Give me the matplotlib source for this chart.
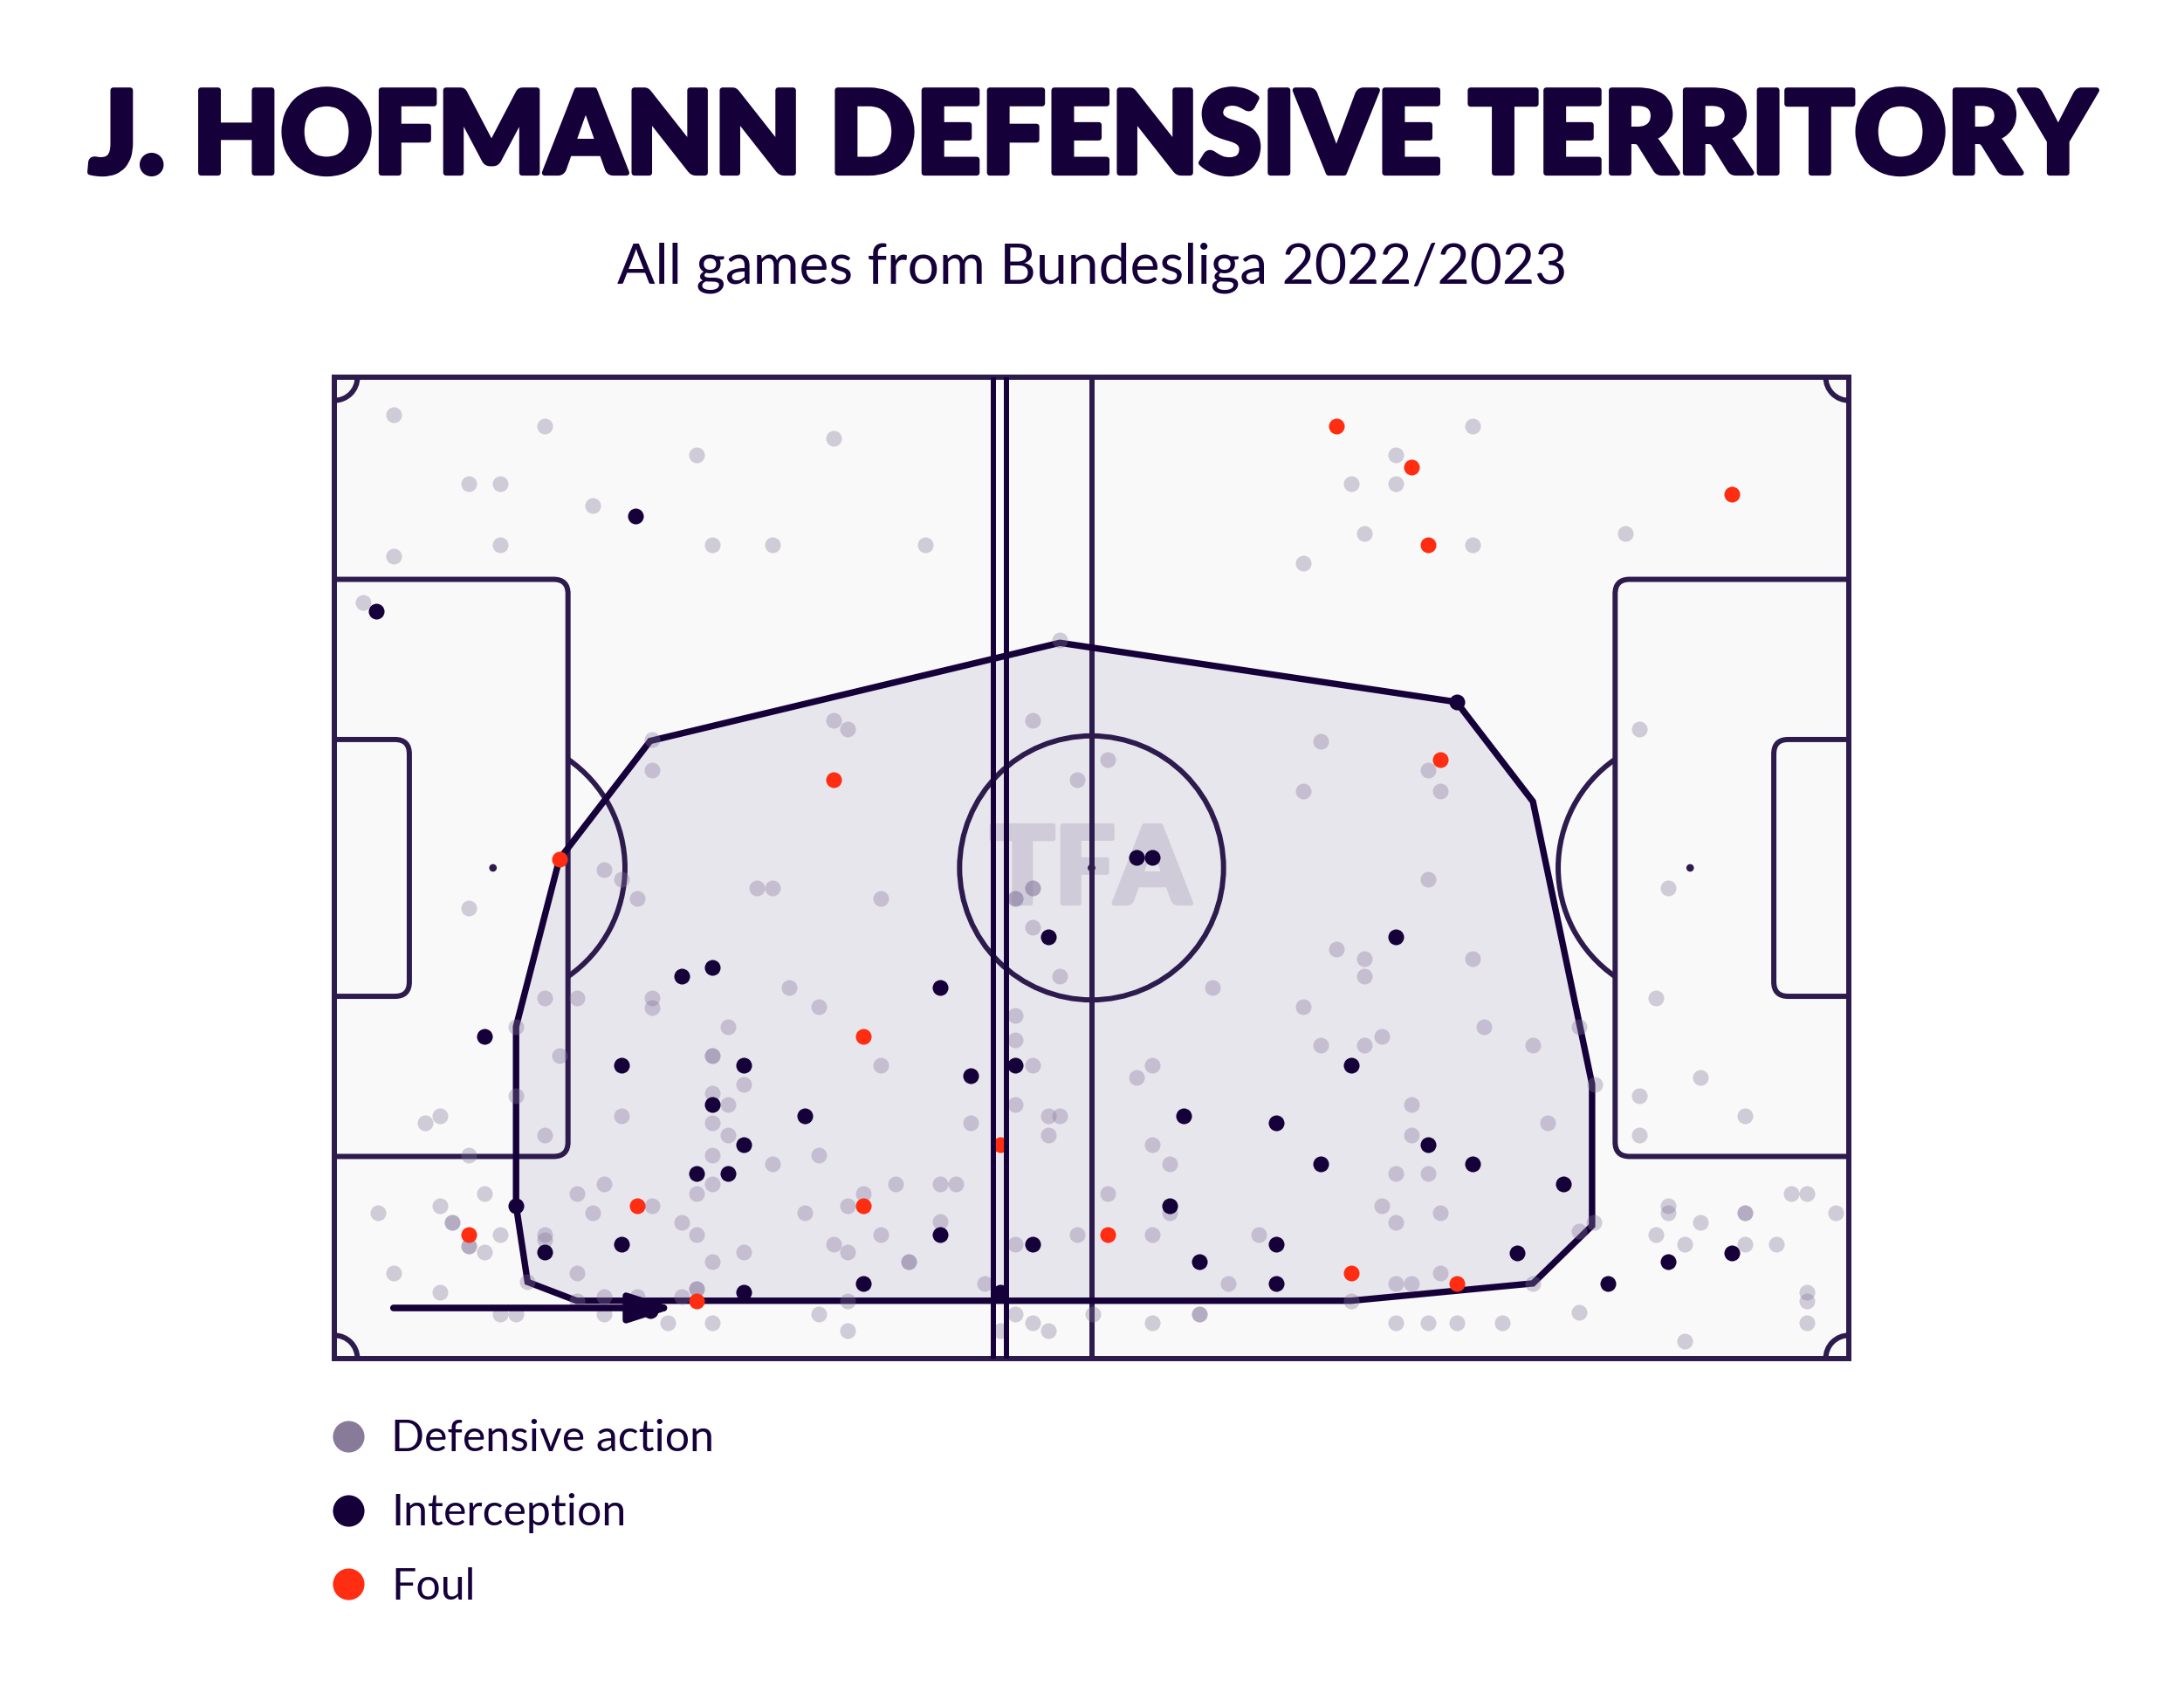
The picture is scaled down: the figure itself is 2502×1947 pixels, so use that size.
import matplotlib
matplotlib.use("Agg")
import matplotlib.pyplot as plt
import matplotlib.patheffects as pe
from matplotlib.patches import Rectangle, Circle, Arc, FancyBboxPatch, Polygon
from matplotlib.lines import Line2D

plt.rcParams['font.family'] = ['Lato', 'DejaVu Sans']

NAVY = '#16003a'
LINE = '#2d1b4e'
GREY = '#82769a'
RED = '#ff2d12'
PITCH_BG = '#f9f9f9'
HULL_FILL = '#e8e6ed'

# pitch is 105 x 68 metres, y measured from the top touchline
# defensive actions
def_x = [4.1, 14.6, 25.1, 34.6, 9.3, 11.5, 17.9, 11.5, 26.2, 30.4,
         41.0, 4.1, 2.0, 78.9, 73.6, 70.5, 73.6, 71.4, 78.9, 67.2,
         89.5, 22.0, 22.0, 34.6, 35.6, 48.4, 50.3, 51.5, 53.6, 68.4,
         75.8, 67.2, 76.7, 90.5, 18.7, 19.9, 21.0, 9.3, 29.3, 30.4,
         37.9, 48.4, 48.4, 47.2, 47.2, 48.4, 50.3, 75.8, 92.5, 69.5,
         71.4, 71.4, 78.9, 60.9, 31.5, 33.6, 27.3, 14.6, 16.8, 22.0,
         22.0, 12.6, 47.2, 47.2, 67.2, 79.7, 86.3, 72.6, 68.4, 71.4,
         83.1, 91.6,
         15.6, 26.2, 26.2, 37.9, 48.4, 56.7, 55.6, 28.4, 94.7, 87.4,
         12.6, 26.2, 90.5, 26.2, 19.9, 6.3, 7.3, 27.3, 47.2, 49.5,
         50.3, 44.1, 74.7, 84.1, 97.8, 14.6, 27.3, 49.5, 74.7, 90.5,
         9.3, 26.2, 33.6, 56.7, 30.4, 57.9, 26.2, 38.9, 42.0, 43.1,
         73.6, 75.8, 18.7, 16.8, 10.4, 25.1, 36.7, 53.6, 101.0, 102.1,
         7.3, 3.0, 22.0, 35.6, 72.6, 92.5, 17.9, 32.6, 57.9, 76.7,
         92.5, 97.8, 97.8, 104.1, 8.2, 8.2, 24.1, 42.0, 73.6, 94.7,
         87.3, 86.3, 11.5, 14.6, 14.6, 25.1, 37.9, 51.5, 56.7, 64.1,
         91.6, 9.3, 9.3, 10.4, 34.6, 47.2, 93.6, 97.8, 100.0, 28.4,
         35.6, 4.1, 16.8, 76.7, 26.2, 39.8, 39.8, 7.3, 13.4, 45.1,
         62.0, 73.6, 74.7, 83.1, 102.1, 25.1, 25.1, 102.1, 16.8, 18.7,
         21.0, 24.1, 35.6, 70.5, 11.5, 12.6, 18.7, 33.6, 47.2, 52.6,
         60.0, 60.0, 86.3, 23.1, 26.2, 48.4, 56.7, 73.6, 75.8, 77.8,
         81.0, 102.1, 35.6, 46.2, 49.5, 93.6]
def_y = [2.6, 3.4, 5.4, 4.2, 7.4, 7.4, 8.9, 11.6, 11.6, 11.6,
         11.6, 12.4, 15.6, 3.4, 5.4, 7.4, 7.4, 10.8, 11.6, 12.9,
         10.8, 25.1, 27.2, 23.8, 24.4, 23.8, 18.2, 27.9, 26.5, 25.2,
         27.2, 28.7, 28.7, 24.4, 34.1, 34.8, 36.1, 36.8, 35.4, 35.4,
         36.1, 35.4, 35.4, 36.1, 36.1, 38.1, 41.5, 34.8, 35.4, 39.6,
         40.3, 41.5, 40.3, 42.3, 42.3, 43.6, 45.0, 43.0, 43.0, 43.0,
         43.7, 45.0, 44.2, 45.9, 43.6, 45.0, 45.0, 45.7, 46.3, 46.3,
         46.3, 43.0,
         47.0, 47.0, 47.0, 47.7, 47.7, 47.7, 48.5, 49.0, 48.5, 49.0,
         49.8, 49.6, 49.8, 51.7, 51.2, 51.7, 51.2, 50.4, 50.4, 51.2,
         51.2, 51.7, 50.4, 51.7, 51.2, 52.5, 52.5, 52.5, 52.5, 52.5,
         53.9, 53.9, 53.9, 53.2, 54.5, 54.5, 55.9, 55.9, 55.9, 55.9,
         55.2, 55.2, 55.9, 56.6, 56.6, 56.6, 56.6, 56.6, 56.6, 56.6,
         57.4, 57.9, 57.4, 57.4, 57.4, 57.4, 57.9, 57.9, 57.9, 57.9,
         57.9, 57.9, 57.9, 57.9, 58.6, 58.6, 58.6, 58.5, 58.6, 58.6,
         58.6, 59.2, 59.4, 59.4, 59.8, 59.4, 59.4, 59.4, 59.4, 59.4,
         59.4, 60.2, 60.2, 60.6, 60.1, 60.1, 60.1, 60.1, 60.1, 60.6,
         60.6, 62.1, 62.1, 62.1, 61.3, 61.3, 61.3, 63.4, 62.7, 62.8,
         62.8, 62.8, 62.8, 62.8, 63.4, 63.2, 63.2, 64.0, 64.0, 63.7,
         63.7, 63.7, 64.0, 64.0, 64.9, 64.9, 64.9, 64.9, 64.9, 64.9,
         64.9, 64.9, 64.8, 65.5, 65.5, 65.5, 65.5, 65.5, 65.5, 65.5,
         65.5, 65.5, 66.1, 66.1, 66.1, 66.8]

# interceptions
int_x = [20.9, 2.9, 10.4, 12.6, 14.6, 19.9, 19.9, 24.1, 26.2, 26.2,
         25.1, 21.9, 28.4, 28.4, 27.3, 32.6, 28.4, 36.7, 42.0, 44.1,
         42.0, 47.2, 46.2, 48.4, 49.5, 55.6, 56.7, 73.6, 70.5, 58.9,
         65.3, 68.4, 75.8, 78.9, 57.9, 65.3, 60.0, 65.3, 77.8, 85.2,
         82.0, 88.3, 92.5, 96.9]
int_y = [9.6, 16.2, 45.7, 57.4, 60.6, 47.7, 60.1, 41.5, 40.9, 50.4,
         55.2, 64.7, 47.7, 53.2, 55.2, 51.2, 63.4, 62.8, 42.3, 48.4,
         59.4, 47.7, 63.4, 60.1, 38.8, 33.3, 33.3, 38.8, 47.7, 51.2,
         51.7, 54.5, 53.2, 54.5, 57.4, 60.1, 61.3, 62.8, 22.5, 55.9,
         60.7, 62.8, 61.3, 60.7]

# fouls
foul_x = [15.6, 34.6, 36.7, 21.0, 9.3, 25.1, 36.7, 46.2, 53.6, 70.5,
          77.8, 69.5, 74.7, 75.8, 96.9, 76.7]
foul_y = [33.4, 27.9, 45.7, 57.4, 59.4, 64.0, 57.4, 53.2, 59.4, 62.1,
          62.8, 3.4, 6.2, 11.6, 8.1, 26.5]

# outline of the defensive territory
hull_x = [15.6, 21.9, 50.3, 77.8, 83.1, 87.2, 87.2, 83.1, 70.5, 16.8, 13.4, 12.6, 12.6]
hull_y = [33.4, 25.2, 18.4, 22.5, 29.4, 49.0, 58.8, 62.8, 64.0, 64.0, 62.7, 57.4, 45.0]

# the two dark vertical lines and the attacking-direction arrow
mark_lines_x = [45.7, 46.6]
arrow_from = (4.1, 64.5)
arrow_to = (23.6, 64.5)

labels = ['Defensive action', 'Interception', 'Foul']


def draw_pitch(ax):
    lw = 4.3
    ax.add_patch(Rectangle((0, 0), 105, 68, facecolor=PITCH_BG, edgecolor='none', zorder=0))
    ax.add_patch(Rectangle((0, 0), 105, 68, fill=False, edgecolor=LINE, lw=lw, zorder=3,
                           clip_on=False, joinstyle='miter'))
    ax.plot([52.5, 52.5], [0, 68], color=LINE, lw=lw, zorder=3, solid_capstyle='butt')
    ax.add_patch(Circle((52.5, 34), 9.15, fill=False, edgecolor=LINE, lw=lw, zorder=3))
    for cx in [52.5, 11, 94]:
        ax.add_patch(Circle((cx, 34), 0.22, color=LINE, zorder=3))
    # boxes, rounded on the pitch side only (the other side is clipped)
    for x0, w, y0, h in [(-3, 19.2, 14.0, 40.0), (88.8, 19.2, 14.0, 40.0),
                         (-3, 8.2, 25.1, 17.8), (99.8, 8.2, 25.1, 17.8)]:
        ax.add_patch(FancyBboxPatch((x0, y0), w, h, boxstyle='round,pad=0,rounding_size=1.0',
                                    fill=False, edgecolor=LINE, lw=lw, zorder=3))
    ax.add_patch(Arc((11, 34), 18.3, 18.3, theta1=-55.4, theta2=55.4, color=LINE, lw=lw, zorder=3))
    ax.add_patch(Arc((94, 34), 18.3, 18.3, theta1=124.6, theta2=235.4, color=LINE, lw=lw, zorder=3))
    for (cx, cy), t1 in zip([(0, 0), (105, 0), (105, 68), (0, 68)], [0, 90, 180, 270]):
        ax.add_patch(Arc((cx, cy), 3.2, 3.2, theta1=t1, theta2=t1 + 90, color=LINE, lw=lw, zorder=3))


fig = plt.figure(figsize=(25.02, 19.47), dpi=100, facecolor='white')
ax = fig.add_axes([383 / 2502, 1 - 1556 / 1947, 1735 / 2502, 1124 / 1947])
ax.set_xlim(0, 105)
ax.set_ylim(68, 0)
ax.set_aspect('equal')
ax.axis('off')

draw_pitch(ax)

hull = list(zip(hull_x, hull_y))
ax.add_patch(Polygon(hull, closed=True, facecolor=HULL_FILL, edgecolor='none', zorder=1))
ax.text(52.4, 34.3, 'TFA', ha='center', va='center', fontsize=88, fontweight='black',
        color='#cfcbd8', zorder=1.5,
        path_effects=[pe.withStroke(linewidth=4, foreground='#cfcbd8')])
ax.add_patch(Polygon(hull, closed=True, fill=False, edgecolor=NAVY, lw=5.3, zorder=4))

ax.scatter(def_x, def_y, s=169, color=GREY, alpha=0.35, lw=0, zorder=5)
ax.scatter(int_x, int_y, s=169, color=NAVY, lw=0, zorder=6)
ax.scatter(foul_x, foul_y, s=169, color=RED, lw=0, zorder=7)

for lx in mark_lines_x:
    ax.plot([lx, lx], [0, 68], color=NAVY, lw=4.3, zorder=8, solid_capstyle='butt')

ax.annotate('', xy=arrow_to, xytext=arrow_from, zorder=8,
            arrowprops=dict(arrowstyle='-|>,head_length=0.78,head_width=0.25', mutation_scale=40,
                            color=NAVY, lw=5.5, shrinkA=0, shrinkB=0, capstyle='round'))

# no black weight installed, so a same-colour stroke thickens the bold face
title = fig.text(0.5, 1 - 198 / 1947, 'J. HOFMANN DEFENSIVE TERRITORY', ha='center',
                 va='baseline', fontsize=90, fontweight='black', color=NAVY,
                 path_effects=[pe.withStroke(linewidth=4.5, foreground=NAVY)])
subtitle = fig.text(0.5, 1 - 324 / 1947, 'All games from Bundesliga 2022/2023', ha='center',
                    va='baseline', fontsize=40, color=NAVY)

# stretch the two headings to the widths seen in the reference
fig.canvas.draw()
r = fig.canvas.get_renderer()
for t, target in [(title, 2300), (subtitle, 1088)]:
    t.set_fontsize(t.get_fontsize() * target / t.get_window_extent(r).width)

handles = [Line2D([], [], marker='o', ls='none', markersize=26, markeredgewidth=0, color=c)
           for c in ['#877b99', NAVY, RED]]
fig.legend(handles, labels, loc='center left', bbox_to_anchor=(374 / 2502, 1 - 1733 / 1947),
           frameon=False, fontsize=36, labelcolor=NAVY, handlelength=1.0, handletextpad=0.48,
           labelspacing=0.77, borderpad=0, borderaxespad=0)

fig.savefig('out.png', dpi=100, facecolor='white')
